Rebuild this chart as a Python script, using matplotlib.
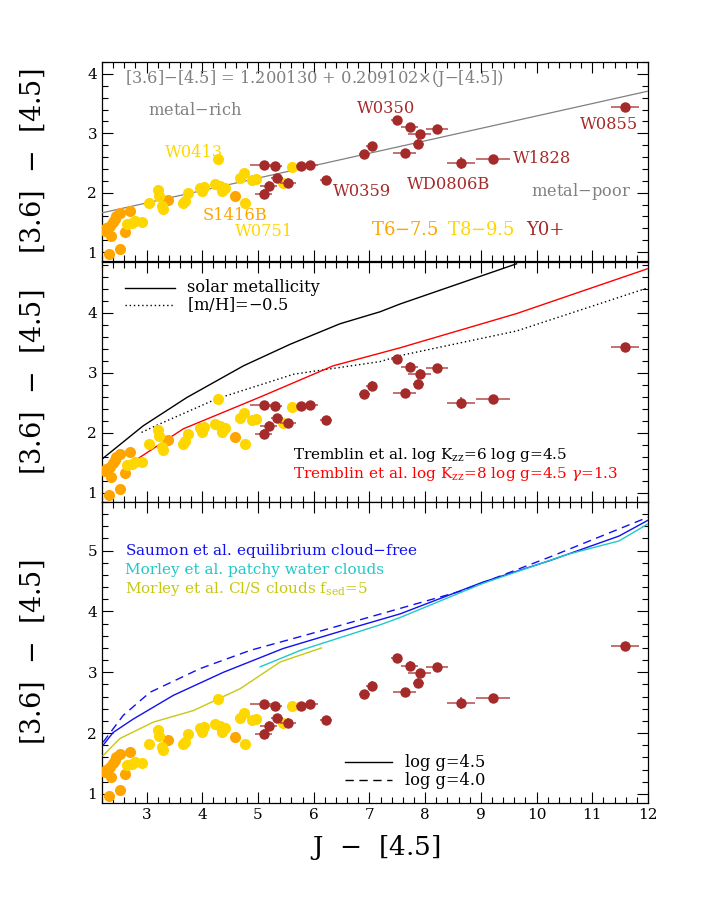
import matplotlib
matplotlib.use("Agg")
import matplotlib.pyplot as plt
from matplotlib.ticker import MultipleLocator
import numpy as np

plt.rcParams['font.family'] = ['DejaVu Serif']
plt.rcParams['mathtext.fontset'] = 'dejavuserif'

# ---------------- data ----------------
# Y0+ dwarfs
y0_x = [5.10, 5.31, 5.34, 5.19, 5.10, 5.54, 5.78, 5.93, 6.22, 6.91, 7.04, 7.49, 7.72, 7.90, 7.88, 7.63, 8.21, 8.65, 9.22, 11.59]
y0_y = [2.47, 2.45, 2.25, 2.12, 1.98, 2.16, 2.45, 2.47, 2.22, 2.65, 2.78, 3.23, 3.10, 2.98, 2.82, 2.67, 3.08, 2.50, 2.57, 3.44]
y0_xerr = [0.25, 0.12, 0.10, 0.15, 0.15, 0.15, 0.10, 0.15, 0.10, 0.10, 0.10, 0.10, 0.15, 0.20, 0.10, 0.20, 0.20, 0.25, 0.30, 0.25]
y0_yerr = [0.05, 0.05, 0.05, 0.08, 0.08, 0.08, 0.05, 0.05, 0.05, 0.05, 0.08, 0.05, 0.08, 0.08, 0.08, 0.05, 0.05, 0.10, 0.05, 0.05]

# T8-9.5 dwarfs
t8_x = [4.29, 4.74, 4.68, 4.89, 4.96, 5.45, 5.61, 4.77, 4.23, 4.32, 4.41, 3.96, 3.99, 3.75, 3.69, 3.66, 3.21, 3.27, 3.30, 3.05, 2.91, 2.73, 2.64, 2.80, 3.22, 4.03, 4.36]
t8_y = [2.56, 2.33, 2.25, 2.22, 2.23, 2.17, 2.44, 1.82, 2.15, 2.12, 2.08, 2.08, 2.02, 1.99, 1.86, 1.82, 2.05, 1.77, 1.72, 1.82, 1.51, 1.49, 1.47, 1.52, 1.95, 2.10, 2.02]

# T6-7.5 dwarfs
t6_x = [4.59, 3.39, 2.70, 2.52, 2.43, 2.34, 2.25, 2.37, 2.61, 2.52, 2.33, 2.45, 2.28, 2.40]
t6_y = [1.94, 1.88, 1.69, 1.65, 1.55, 1.44, 1.36, 1.27, 1.33, 1.06, 0.97, 1.60, 1.40, 1.50]

# linear fit
fit_a, fit_b = 1.200130, 0.209102

# Tremblin models
trem_sol_x = [2.22, 2.94, 3.72, 4.74, 5.58, 6.47, 7.19, 7.55, 9.64]
trem_sol_y = [1.58, 2.12, 2.59, 3.12, 3.48, 3.82, 4.02, 4.15, 4.82]
trem_mp_x = [2.91, 3.21, 4.26, 5.64, 7.19, 7.55, 9.64, 12.0]
trem_mp_y = [2.01, 2.14, 2.57, 2.98, 3.19, 3.29, 3.70, 4.42]
trem_k8_x = [2.61, 3.66, 5.04, 6.35, 7.55, 9.64, 12.0]
trem_k8_y = [1.43, 2.07, 2.60, 3.12, 3.42, 3.99, 4.74]

# Saumon / Morley models
saum45_x = [2.22, 2.40, 2.76, 3.48, 4.38, 5.45, 6.65, 7.55, 9.03, 10.25, 11.48, 12.0]
saum45_y = [1.80, 2.01, 2.23, 2.62, 3.00, 3.39, 3.72, 3.96, 4.48, 4.84, 5.24, 5.50]
saum40_x = [2.22, 2.58, 3.06, 3.96, 4.86, 6.05, 7.55, 8.66, 10.25, 12.0]
saum40_y = [1.85, 2.29, 2.67, 3.06, 3.36, 3.66, 4.05, 4.34, 4.90, 5.55]
morw_x = [5.04, 5.76, 7.19, 7.55, 9.03, 10.56, 11.48, 12.0]
morw_y = [3.09, 3.36, 3.78, 3.90, 4.46, 4.94, 5.16, 5.44]
morcs_x = [2.22, 2.52, 3.12, 3.84, 4.68, 5.40, 6.14]
morcs_y = [1.63, 1.91, 2.18, 2.37, 2.73, 3.17, 3.40]

C_T6 = '#FFA500'
C_T8 = '#FFD700'
C_Y0 = '#A52A2A'
C_Y0E = '#B85A5A'

# ---------------- figure ----------------
fig = plt.figure(figsize=(7.06, 9.13), dpi=100)
L, W = 102/706, 546/706
ax1 = fig.add_axes([L, 1-261/913, W, 199/913])
ax2 = fig.add_axes([L, 1-502/913, W, 240/913])
ax3 = fig.add_axes([L, 1-803/913, W, 301/913])

ylims = [(0.85, 4.2), (0.85, 4.85), (0.85, 5.8)]
FS = 11.7


def draw_data(ax):
    ax.errorbar(t6_x, t6_y, xerr=0.08, yerr=0.07, fmt='o', color=C_T6, ms=8,
                ecolor=C_T6, elinewidth=1.0, capsize=2.5, mew=0, zorder=4)
    ax.errorbar(t8_x, t8_y, xerr=0.08, yerr=0.07, fmt='o', color=C_T8, ms=8,
                ecolor=C_T8, elinewidth=1.0, capsize=2.5, mew=0, zorder=4)
    ax.errorbar(y0_x, y0_y, xerr=y0_xerr, yerr=y0_yerr, fmt='o', color=C_Y0, ms=7.5,
                ecolor=C_Y0E, elinewidth=1.2, capsize=3.5, mew=0, zorder=5)


for ax, yl in zip([ax1, ax2, ax3], ylims):
    draw_data(ax)
    ax.set_xlim(2.2, 12)
    ax.set_ylim(*yl)
    ax.xaxis.set_major_locator(MultipleLocator(1))
    ax.xaxis.set_minor_locator(MultipleLocator(0.2))
    ax.yaxis.set_major_locator(MultipleLocator(1))
    ax.yaxis.set_minor_locator(MultipleLocator(0.2))
    ax.tick_params(which='both', direction='in', top=True, right=True, labelsize=11)
    ax.tick_params(which='major', length=8, width=0.8)
    ax.tick_params(which='minor', length=4, width=0.8)
    ax.set_ylabel('[3.6]  $-$  [4.5]', fontsize=19.5)
    ax.yaxis.set_label_coords(-0.10, 0.5)
    for s in ax.spines.values():
        s.set_linewidth(0.9)

ax1.tick_params(labelbottom=False)
ax2.tick_params(labelbottom=False)
ax3.set_xlabel('J  $-$  [4.5]', fontsize=19, labelpad=8)

# ---- panel 1 ----
xf = np.array([2.2, 12.0])
ax1.plot(xf, fit_a + fit_b*xf, color='gray', lw=0.9, zorder=3)
gray = '#808080'
ax1.text(2.61, 3.93, '[3.6]$-$[4.5] = 1.200130 + 0.209102$\\times$(J$-$[4.5])',
         color=gray, fontsize=FS, va='center')
ax1.text(3.03, 3.38, 'metal$-$rich', color=gray, fontsize=FS, va='center')
ax1.text(9.90, 2.02, 'metal$-$poor', color=gray, fontsize=FS, va='center')
lab = dict(fontsize=FS, va='center')
ax1.text(6.78, 3.42, 'W0350', color=C_Y0, **lab)
ax1.text(10.78, 3.15, 'W0855', color=C_Y0, **lab)
ax1.text(9.58, 2.58, 'W1828', color=C_Y0, **lab)
ax1.text(6.35, 2.02, 'W0359', color=C_Y0, **lab)
ax1.text(7.68, 2.13, 'WD0806B', color=C_Y0, **lab)
ax1.text(3.33, 2.68, 'W0413', color=C_T8, **lab)
ax1.text(4.59, 1.355, 'W0751', color=C_T8, **lab)
ax1.text(4.01, 1.62, 'S1416B', color=C_T6, **lab)
ax1.text(7.03, 1.38, 'T6$-$7.5', color=C_T6, fontsize=13, va='center')
ax1.text(8.39, 1.38, 'T8$-$9.5', color=C_T8, fontsize=13, va='center')
ax1.text(9.81, 1.38, 'Y0+', color=C_Y0, fontsize=13, va='center')

# ---- panel 2 ----
ax2.plot(trem_sol_x, trem_sol_y, color='black', lw=1.0, zorder=3)
ax2.plot(trem_mp_x, trem_mp_y, color='black', lw=1.0, ls=(0, (1, 2)), zorder=3)
ax2.plot(trem_k8_x, trem_k8_y, color='red', lw=1.0, zorder=3)
ax2.plot([0.042, 0.134], [0.892, 0.892], color='black', lw=1.0, transform=ax2.transAxes)
ax2.plot([0.042, 0.134], [0.821, 0.821], color='black', lw=1.0, ls=(0, (1, 2)), transform=ax2.transAxes)
ax2.text(0.155, 0.892, 'solar metallicity', transform=ax2.transAxes, fontsize=FS, va='center')
ax2.text(0.155, 0.821, '[m/H]=$-$0.5', transform=ax2.transAxes, fontsize=FS, va='center')
ax2.text(0.350, 0.196, 'Tremblin et al. log K$_{\\rm zz}$=6 log g=4.5', transform=ax2.transAxes,
         fontsize=11, va='center', color='black')
ax2.text(0.350, 0.117, 'Tremblin et al. log K$_{\\rm zz}$=8 log g=4.5 $\\gamma$=1.3', transform=ax2.transAxes,
         fontsize=11, va='center', color='red')

# ---- panel 3 ----
C_SAU = '#1010F0'
C_MW = '#20C8C8'
C_MCS = '#C8C810'
ax3.plot(saum45_x, saum45_y, color=C_SAU, lw=1.0, zorder=3)
ax3.plot(saum40_x, saum40_y, color=C_SAU, lw=1.0, ls=(0, (6, 4)), zorder=3)
ax3.plot(morw_x, morw_y, color=C_MW, lw=1.0, zorder=3)
ax3.plot(morcs_x, morcs_y, color=C_MCS, lw=1.0, zorder=3)
ax3.text(0.042, 0.837, 'Saumon et al. equilibrium cloud$-$free', transform=ax3.transAxes,
         fontsize=11, va='center', color=C_SAU)
ax3.text(0.042, 0.774, 'Morley et al. patchy water clouds', transform=ax3.transAxes,
         fontsize=11, va='center', color=C_MW)
ax3.text(0.042, 0.711, 'Morley et al. Cl/S clouds f$_{\\rm sed}$=5', transform=ax3.transAxes,
         fontsize=11, va='center', color=C_MCS)
ax3.plot([0.445, 0.531], [0.136, 0.136], color='black', lw=1.0, transform=ax3.transAxes)
ax3.plot([0.445, 0.531], [0.076, 0.076], color='black', lw=1.0, ls=(0, (6, 4)), transform=ax3.transAxes)
ax3.text(0.555, 0.136, 'log g=4.5', transform=ax3.transAxes, fontsize=FS, va='center')
ax3.text(0.555, 0.076, 'log g=4.0', transform=ax3.transAxes, fontsize=FS, va='center')

fig.savefig('out.png', dpi=100)
